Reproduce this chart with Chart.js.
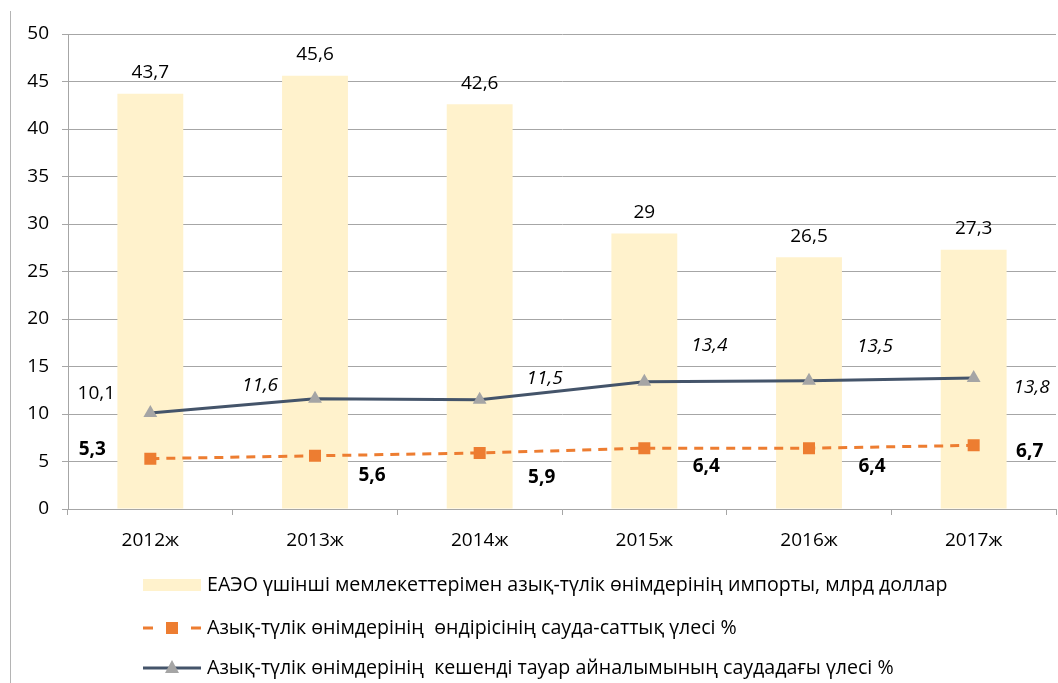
<!DOCTYPE html>
<html>
<head>
<meta charset="utf-8">
<script src="https://cdn.jsdelivr.net/npm/chart.js@4/dist/chart.umd.min.js"></script>
<style>
  html, body { margin: 0; padding: 0; background: #fff; }
  #wrap { width: 1058px; height: 683px; position: relative; }
</style>
</head>
<body>
<div id="wrap"><canvas id="chart"></canvas></div>
<script>
// Chart data
const years = ["2012ж", "2013ж", "2014ж", "2015ж", "2016ж", "2017ж"];
const importValues = [43.7, 45.6, 42.6, 29, 26.5, 27.3];
const productionShare = [5.3, 5.6, 5.9, 6.4, 6.4, 6.7];
const tradeShare = [10.1, 11.6, 11.5, 13.4, 13.5, 13.8];
const seriesNames = [
    "ЕАЭО үшінші мемлекеттерімен азық-түлік өнімдерінің импорты, млрд доллар",
    "Азық-түлік өнімдерінің  өндірісінің сауда-саттық үлесі %",
    "Азық-түлік өнімдерінің  кешенді тауар айналымының саудадағы үлесі %"
];

const FONT = "'Open Sans', sans-serif";
const BAR_COLOR = '#FFF2CC';
const ORANGE = '#ED7D31';
const NAVY = '#44546A';
const GRAY_MARK = '#A5A5A5';
const GRID = '#A6A6A6';

// label offsets (dx, dy) from the point, per series
const orangeOffsets = [[-58, -9], [57, 20], [62, 25], [62, 18], [63, 18], [56, 6]];
const navyOffsets = [[-54, -19], [-55, -13], [65, -21], [65, -36], [66, -34], [58, 10]];

function fmt(v) {
    return String(v).replace('.', ',');
}

// Draws value labels, legend and left border
const extrasPlugin = {
    id: 'extras',
    beforeDraw(chart) {
        const ctx = chart.ctx;
        ctx.save();
        ctx.strokeStyle = '#B4B4B4';
        ctx.lineWidth = 1;
        ctx.beginPath();
        ctx.moveTo(10.5, 11);
        ctx.lineTo(10.5, 683);
        ctx.stroke();
        ctx.restore();
    },
    afterDatasetsDraw(chart) {
        const ctx = chart.ctx;
        ctx.save();
        ctx.textAlign = 'center';
        ctx.textBaseline = 'middle';
        ctx.fillStyle = '#000';

        // bar labels
        ctx.font = '19px ' + FONT;
        chart.getDatasetMeta(0).data.forEach((el, i) => {
            ctx.fillText(fmt(importValues[i]), el.x, el.y - 21);
        });

        // orange line labels (bold)
        ctx.font = 'bold 19px ' + FONT;
        chart.getDatasetMeta(1).data.forEach((el, i) => {
            const o = orangeOffsets[i];
            ctx.fillText(fmt(productionShare[i]), el.x + o[0], el.y + o[1]);
        });

        // navy line labels (italic except first)
        chart.getDatasetMeta(2).data.forEach((el, i) => {
            const o = navyOffsets[i];
            ctx.font = (i === 0 ? '' : 'italic ') + '19px ' + FONT;
            ctx.fillText(fmt(tradeShare[i]), el.x + o[0], el.y + o[1]);
        });
        ctx.restore();

        // legend
        ctx.save();
        ctx.font = '19.6px ' + FONT;
        ctx.textAlign = 'left';
        ctx.textBaseline = 'middle';
        ctx.fillStyle = '#000';
        const x0 = 143, x1 = 201, tx = 207;
        const rows = [585, 628, 668];

        ctx.fillStyle = BAR_COLOR;
        ctx.fillRect(x0, rows[0] - 6, x1 - x0, 12);

        ctx.strokeStyle = ORANGE;
        ctx.lineWidth = 3;
        ctx.beginPath();
        ctx.moveTo(x0, rows[1]); ctx.lineTo(x0 + 10, rows[1]);
        ctx.moveTo(x1 - 10, rows[1]); ctx.lineTo(x1, rows[1]);
        ctx.stroke();
        ctx.fillStyle = ORANGE;
        ctx.fillRect(166, rows[1] - 6, 12, 12);

        ctx.strokeStyle = NAVY;
        ctx.beginPath();
        ctx.moveTo(x0, rows[2]); ctx.lineTo(x1, rows[2]);
        ctx.stroke();
        ctx.fillStyle = GRAY_MARK;
        ctx.beginPath();
        ctx.moveTo(172, rows[2] - 8);
        ctx.lineTo(179, rows[2] + 5);
        ctx.lineTo(165, rows[2] + 5);
        ctx.closePath();
        ctx.fill();

        ctx.fillStyle = '#000';
        seriesNames.forEach((name, i) => {
            ctx.fillText(name, tx, rows[i]);
        });
        ctx.restore();
    }
};

const ctx = document.getElementById('chart').getContext('2d');
const myChart = new Chart(ctx, {
    data: {
        labels: years,
        datasets: [
            {
                type: 'bar',
                label: seriesNames[0],
                data: importValues,
                backgroundColor: BAR_COLOR,
                barPercentage: 0.4,
                categoryPercentage: 1,
                order: 3
            },
            {
                type: 'line',
                label: seriesNames[1],
                data: productionShare,
                borderColor: ORANGE,
                borderWidth: 3,
                borderDash: [9, 7],
                pointStyle: 'rect',
                pointRadius: 8.5,
                pointBackgroundColor: ORANGE,
                pointBorderColor: ORANGE,
                pointBorderWidth: 0,
                order: 2
            },
            {
                type: 'line',
                label: seriesNames[2],
                data: tradeShare,
                borderColor: NAVY,
                borderWidth: 3,
                pointStyle: 'triangle',
                pointRadius: 8,
                pointBackgroundColor: GRAY_MARK,
                pointBorderColor: GRAY_MARK,
                pointBorderWidth: 0,
                order: 1
            }
        ]
    },
    options: {
        responsive: true,
        maintainAspectRatio: false,
        animation: false,
        layout: { autoPadding: false, padding: { top: 34, right: 2, left: 0, bottom: 0 } },
        plugins: {
            legend: { display: false },
            tooltip: { enabled: false }
        },
        scales: {
            x: {
                offset: true,
                grid: {
                    offset: true,
                    drawOnChartArea: false,
                    drawTicks: true,
                    tickLength: 6,
                    color: GRID
                },
                border: { display: true, color: GRID, width: 1 },
                ticks: {
                    color: '#000',
                    padding: 14,
                    font: { family: FONT, size: 19 }
                },
                afterFit(scale) { scale.height = 683 - 509; }
            },
            y: {
                min: 0,
                max: 50,
                ticks: {
                    stepSize: 5,
                    color: '#000',
                    padding: 13,
                    font: { family: FONT, size: 19 }
                },
                grid: {
                    color: GRID,
                    tickLength: 6,
                    drawTicks: true
                },
                border: { display: true, color: GRID, width: 1 },
                afterFit(scale) { scale.width = 68; }
            }
        }
    },
    plugins: [extrasPlugin]
});
</script>
</body>
</html>
